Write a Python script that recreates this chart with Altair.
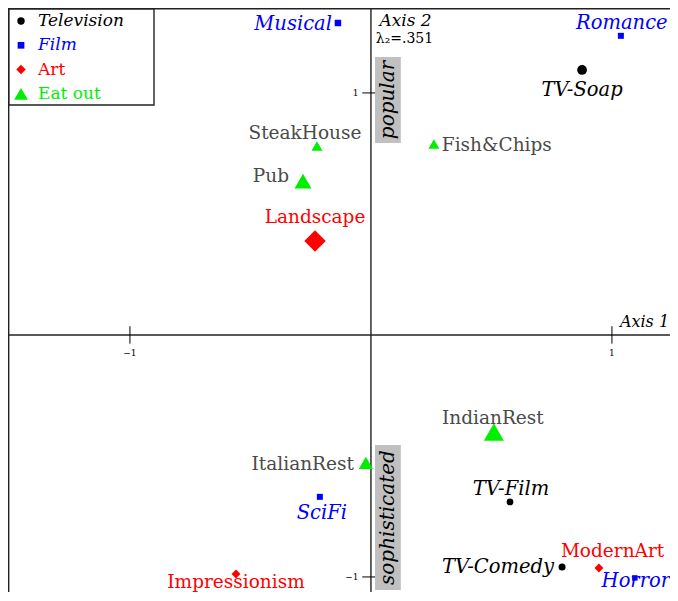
import altair as alt
import pandas as pd

# ---------------- data ----------------
names = ["TV-Soap", "TV-Film", "TV-Comedy",
         "Musical", "Romance", "SciFi", "Horror",
         "Landscape", "Impressionism", "ModernArt",
         "SteakHouse", "Pub", "Fish&Chips", "IndianRest", "ItalianRest"]
groups = ["Television"] * 3 + ["Film"] * 4 + ["Art"] * 3 + ["Eat out"] * 5
dim1 = [0.876, 0.577, 0.793,
        -0.137, 1.037, -0.212, 1.095,
        -0.232, -0.560, 0.946,
        -0.224, -0.282, 0.261, 0.510, -0.021]
dim2 = [1.095, -0.690, -0.959,
        1.289, 1.236, -0.669, -1.004,
        0.388, -0.988, -0.963,
        0.781, 0.636, 0.789, -0.401, -0.529]
legend_groups = ["Television", "Film", "Art", "Eat out"]
axis_ticks = [-1, 1]
axis_tick_labels = ["\u22121", "1"]
axis2_title = "Axis 2"
axis2_inertia = "\u03bb\u2082=.351"
axis1_title = "Axis 1"
annotations = ["popular", "sophisticated"]

# ---------------- layout / style ----------------
W, H = 662, 584                 # keeps the page within the 678x601 window
SX, SY = 241.0, 242.0           # pixels per unit
XMIN, YMAX = -1.506, 1.351
XMAX = XMIN + W / SX
YMIN = YMAX - H / SY

marker_size = {"TV-Soap": 95, "TV-Film": 45, "TV-Comedy": 50,
               "Musical": 42, "Romance": 36, "SciFi": 36, "Horror": 30,
               "Landscape": 460, "Impressionism": 80, "ModernArt": 80,
               "SteakHouse": 120, "Pub": 290, "Fish&Chips": 120,
               "IndianRest": 400, "ItalianRest": 200}
label_place = {"TV-Soap": ("center", 0, 20), "TV-Film": ("center", 1, -13),
               "TV-Comedy": ("right", -8, 0), "Musical": ("right", -6, 1),
               "Romance": ("center", 1, -13), "SciFi": ("center", 2, 16),
               "Horror": ("center", 1, 3), "Landscape": ("center", 0, -24),
               "Impressionism": ("center", 0, 8), "ModernArt": ("left", -38, -17),
               "SteakHouse": ("center", -12, -13), "Pub": ("right", -14, -5),
               "Fish&Chips": ("left", 8, 1), "IndianRest": ("center", -1, -14),
               "ItalianRest": ("right", -12, 1)}
sym_color = {"Television": "#000000", "Film": "#0000ff", "Art": "#ff0000", "Eat out": "#00ee00"}
lab_color = {"Television": "#000000", "Film": "#0000ff", "Art": "#ff0000", "Eat out": "#4a4a4a"}
leg_color = {"Television": "#000000", "Film": "#0000ff", "Art": "#ff0000", "Eat out": "#00ee00"}
shape = {"Television": "circle", "Film": "square", "Art": "diamond", "Eat out": "triangle-up"}
italic = {"Television": True, "Film": True, "Art": False, "Eat out": False}
FONT = "DejaVu Serif"

df = pd.DataFrame({"name": names, "group": groups, "x": dim1, "y": dim2})
df["size"] = df["name"].map(marker_size)
df["align"] = df["name"].map(lambda n: label_place[n][0])
df["lx"] = df.apply(lambda r: r["x"] + label_place[r["name"]][1] / SX, axis=1)
df["ly"] = df.apply(lambda r: r["y"] - label_place[r["name"]][2] / SY, axis=1)

xs = alt.Scale(domain=[XMIN, XMAX], nice=False, zero=False)
ys = alt.Scale(domain=[YMIN, YMAX], nice=False, zero=False)
X = lambda f: alt.X(f, scale=xs, axis=None)
Y = lambda f: alt.Y(f, scale=ys, axis=None)

layers = []

# axes through origin
axes_df = pd.DataFrame({"x1": [XMIN, 0.0], "x2": [XMAX, 0.0], "y1": [0.0, YMIN], "y2": [0.0, YMAX]})
layers.append(alt.Chart(axes_df).mark_rule(color="#222222", strokeWidth=1.4).encode(
    x=X("x1:Q"), x2="x2:Q", y=Y("y1:Q"), y2="y2:Q"))

# ticks
TL = 0.036
xt = pd.DataFrame({"v": axis_ticks, "lab": axis_tick_labels})
layers.append(alt.Chart(xt).transform_calculate(a=f"-{TL}", b=f"{TL}").mark_rule(
    color="#000000", strokeWidth=1).encode(x=X("v:Q"), y=Y("a:Q"), y2="b:Q"))
layers.append(alt.Chart(xt).transform_calculate(a=f"-{TL}", b=f"{TL}").mark_rule(
    color="#000000", strokeWidth=1).encode(y=Y("v:Q"), x=X("a:Q"), x2="b:Q"))
layers.append(alt.Chart(xt).transform_calculate(yy="-0.075").mark_text(
    font=FONT, fontSize=9, baseline="middle", align="center", color="#000").encode(
    x=X("v:Q"), y=Y("yy:Q"), text="lab:N"))
layers.append(alt.Chart(xt).transform_calculate(xx="-0.052").mark_text(
    font=FONT, fontSize=9, baseline="middle", align="right", color="#000").encode(
    x=X("xx:Q"), y=Y("v:Q"), text="lab:N"))

# grey annotation boxes
ann_df = pd.DataFrame({"txt": annotations, "x1": [0.017, 0.017], "x2": [0.124, 0.124],
                       "y1": [0.793, -1.054], "y2": [1.149, -0.455]})
ann_df["xc"] = (ann_df["x1"] + ann_df["x2"]) / 2
ann_df["yc"] = (ann_df["y1"] + ann_df["y2"]) / 2
layers.append(alt.Chart(ann_df).mark_rect(color="#c0c0c0").encode(
    x=X("x1:Q"), x2="x2:Q", y=Y("y1:Q"), y2="y2:Q"))
layers.append(alt.Chart(ann_df).mark_text(
    font=FONT, fontSize=20, fontStyle="italic", angle=270, align="center",
    baseline="middle", color="#000").encode(x=X("xc:Q"), y=Y("yc:Q"), text="txt:N"))

# axis titles
t_df = pd.DataFrame({"t": [axis2_title, axis2_inertia, axis1_title],
                     "x": [0.035, 0.02, 1.033], "y": [1.299, 1.222, 0.055],
                     "fs": ["italic", "normal", "italic"], "size": [17, 14, 16]})
for i, r in t_df.iterrows():
    layers.append(alt.Chart(t_df.iloc[[i]]).mark_text(
        font=FONT, fontSize=int(r["size"]), fontStyle=r["fs"], align="left",
        baseline="middle", color="#000").encode(x=X("x:Q"), y=Y("y:Q"), text="t:N"))

# points
layers.append(alt.Chart(df).mark_point(filled=True, opacity=1).encode(
    x=X("x:Q"), y=Y("y:Q"),
    shape=alt.Shape("group:N", scale=alt.Scale(domain=legend_groups,
                    range=[shape[g] for g in legend_groups]), legend=None),
    color=alt.Color("group:N", scale=alt.Scale(domain=legend_groups,
                    range=[sym_color[g] for g in legend_groups]), legend=None),
    size=alt.Size("size:Q", scale=None)))

# labels
for g in legend_groups:
    for al in ["left", "center", "right"]:
        sub = df[(df["group"] == g) & (df["align"] == al)]
        if len(sub) == 0:
            continue
        layers.append(alt.Chart(sub).mark_text(
            font=FONT, fontSize=19.5 if italic[g] else 18.5,
            fontStyle="italic" if italic[g] else "normal",
            align=al, baseline="middle", color=lab_color[g]).encode(
            x=X("lx:Q"), y=Y("ly:Q"), text="name:N"))

# legend box (drawn manually, top-left)
layers.append(alt.Chart(pd.DataFrame({"a": [0]})).mark_rect(
    fill="white", stroke="#222222", strokeWidth=1.4).encode(
    x=alt.value(0.7), x2=alt.value(146), y=alt.value(0.7), y2=alt.value(97)))
leg_sizes = {"Television": 55, "Film": 45, "Art": 90, "Eat out": 190}
for i, g in enumerate(legend_groups):
    ld = pd.DataFrame({"g": [g]})
    yy = 13 + 24.3 * i
    layers.append(alt.Chart(ld).mark_point(
        filled=True, opacity=1, shape=shape[g], color=sym_color[g], size=leg_sizes[g]).encode(
        x=alt.value(13), y=alt.value(yy)))
    layers.append(alt.Chart(ld).mark_text(
        font=FONT, fontSize=17, fontStyle="italic" if italic[g] else "normal",
        align="left", baseline="middle", color=leg_color[g]).encode(
        x=alt.value(30), y=alt.value(yy), text="g:N"))

# frame: top and left edges
layers.append(alt.Chart(pd.DataFrame({"a": [0]})).mark_rule(color="#222222", strokeWidth=1.4).encode(
    x=alt.value(0), x2=alt.value(W), y=alt.value(0.7)))
layers.append(alt.Chart(pd.DataFrame({"a": [0]})).mark_rule(color="#222222", strokeWidth=1.4).encode(
    x=alt.value(0.7), y=alt.value(0), y2=alt.value(H)))

chart = alt.layer(*layers).properties(
    width=W, height=H, autosize=alt.AutoSizeParams(type="none"), padding=0
).configure_view(stroke=None)

chart.save("out.html", embed_options={"renderer": "svg", "actions": False})
